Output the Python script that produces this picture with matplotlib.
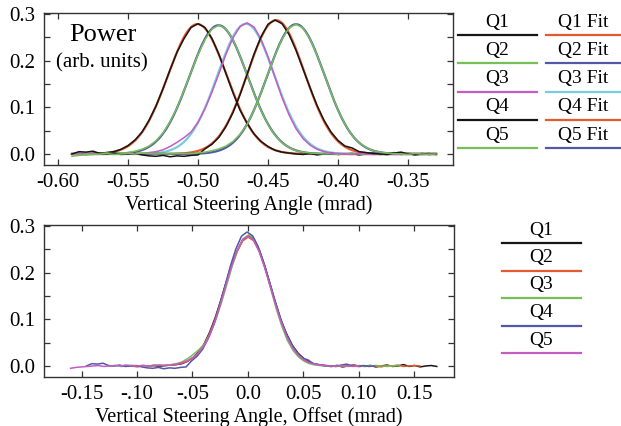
import matplotlib.pyplot as plt
import numpy as np
from matplotlib.lines import Line2D

plt.rcParams['font.family'] = ['Liberation Serif', 'DejaVu Serif']

# scan positions (mrad), the same for all five scans
angle = np.linspace(-0.590, -0.330, 53)

q1 = [0.000, 0.001, -0.001, 0.001, 0.002, 0.003, 0.005, 0.010, 0.018, 0.030,
      0.047, 0.072, 0.103, 0.140, 0.180, 0.218, 0.247, 0.271, 0.279, 0.271,
      0.247, 0.213, 0.172, 0.131, 0.094, 0.066, 0.043, 0.027, 0.016, 0.008,
      0.004, 0.002, 0.000, -0.001, 0.001, -0.002, 0.000, 0.002, -0.001, 0.000,
      0.001, -0.002, 0.000, 0.002, -0.001, 0.000, 0.003, -0.001, 0.001, -0.002,
      0.000, 0.001, -0.001]
q2 = [0.000, -0.002, 0.001, 0.000, 0.001, 0.002, 0.001, 0.002, 0.003, 0.006,
      0.010, 0.017, 0.028, 0.045, 0.069, 0.099, 0.136, 0.175, 0.213, 0.245,
      0.268, 0.276, 0.268, 0.245, 0.210, 0.170, 0.130, 0.093, 0.063, 0.040,
      0.024, 0.014, 0.007, 0.004, 0.002, 0.001, 0.000, 0.001, -0.001, 0.000,
      0.002, 0.000, -0.001, 0.001, 0.000, -0.002, 0.001, 0.000, 0.002, -0.001,
      0.000, 0.001, 0.000]
q3 = [0.000, 0.001, -0.001, 0.000, 0.001, 0.000, 0.001, 0.000, 0.002, 0.001,
      0.001, 0.003, 0.005, 0.009, 0.016, 0.025, 0.035, 0.047, 0.068, 0.097,
      0.133, 0.173, 0.214, 0.249, 0.273, 0.281, 0.272, 0.246, 0.208, 0.164,
      0.121, 0.084, 0.054, 0.033, 0.019, 0.010, 0.005, 0.002, 0.001, 0.000,
      -0.001, 0.001, 0.000, -0.001, 0.000, 0.001, -0.001, 0.000, 0.001, 0.000,
      -0.001, 0.000, 0.001]
q4 = [0.000, 0.005, 0.004, 0.006, 0.001, 0.000, 0.002, -0.001, 0.000, 0.001,
      -0.002, -0.004, -0.005, -0.003, -0.006, -0.004, -0.005, -0.003, -0.002, 0.011,
      0.021, 0.036, 0.059, 0.089, 0.127, 0.170, 0.214, 0.251, 0.278, 0.287,
      0.279, 0.256, 0.222, 0.182, 0.142, 0.104, 0.072, 0.047, 0.029, 0.017,
      0.013, 0.005, 0.003, 0.001, 0.000, -0.001, 0.002, 0.004, 0.000, -0.001,
      0.001, -0.001, 0.000]
q5 = [-0.005, -0.003, -0.002, -0.001, 0.000, 0.001, -0.001, 0.000, 0.001, 0.000,
      0.002, 0.001, 0.000, 0.001, 0.000, 0.001, 0.001, 0.001, 0.002, 0.004,
      0.007, 0.011, 0.017, 0.027, 0.042, 0.063, 0.094, 0.131, 0.172, 0.212,
      0.246, 0.270, 0.278, 0.270, 0.246, 0.212, 0.172, 0.131, 0.094, 0.063,
      0.040, 0.024, 0.014, 0.007, 0.004, 0.002, 0.001, 0.000, -0.001, 0.001,
      0.000, -0.001, 0.000]

names = ['Q1', 'Q2', 'Q3', 'Q4', 'Q5']
scans = [q1, q2, q3, q4, q5]

top_x_ticks = [-0.60, -0.55, -0.50, -0.45, -0.40, -0.35]
top_x_labels = ['-0.60', '-0.55', '-0.50', '-0.45', '-0.40', '-0.35']
bot_x_ticks = [-0.15, -0.10, -0.05, 0.0, 0.05, 0.10, 0.15]
bot_x_labels = ['-0.15', '-.10', '-.05', '0.0', '0.05', '0.10', '0.15']
y_ticks = [0.0, 0.1, 0.2, 0.3]
y_labels = ['0.0', '0.1', '0.2', '0.3']

BLACK = '#151515'
ORANGE = '#e55a2d'
GREEN = '#76bf58'
BLUE = '#5257a8'
MAGENTA = '#c55cc2'
CYAN = '#74cde2'

top_data_colors = [BLACK, GREEN, MAGENTA, BLACK, GREEN]
top_fit_colors = [ORANGE, BLUE, CYAN, ORANGE, BLUE]
bot_colors = [BLACK, ORANGE, GREEN, BLUE, MAGENTA]


def gauss_fit(x, y):
    # least squares gaussian through the peak (log-parabola)
    m = y > 0.02
    x0 = x[m].mean()
    a, b, c = np.polyfit(x[m] - x0, np.log(y[m]), 2, w=y[m])
    sigma = np.sqrt(-1 / (2 * a))
    mu = -b / (2 * a)
    amp = np.exp(c - b ** 2 / (4 * a))
    return amp, mu + x0, sigma


def style_axes(ax):
    ax.tick_params(direction='in', top=True, right=True, length=4.5,
                   width=0.9, labelsize=15, pad=6, color='#333333')
    ax.tick_params(which='minor', direction='in', top=True, right=True,
                   length=4.5, width=0.9, color='#333333')
    for s in ax.spines.values():
        s.set_color('#333333')
        s.set_linewidth(1.0)
    ax.set_yticks(y_ticks)
    ax.set_yticklabels(y_labels)
    ax.set_yticks([0.05, 0.15, 0.25], minor=True)
    ax.set_ylim(-0.0236, 0.302)


fig = plt.figure(figsize=(6.21, 4.26), dpi=100)
ax1 = fig.add_axes([44 / 621, 1 - 165 / 426, 409 / 621, 152 / 426])
ax2 = fig.add_axes([44 / 621, 1 - 377 / 426, 410 / 621, 152 / 426])

fine = np.linspace(angle[0], angle[-1], 600)
centers = []
for y, fc in zip(scans, top_fit_colors):
    amp, mu, sig = gauss_fit(angle, np.array(y))
    centers.append(mu)
    ax1.plot(fine, amp * np.exp(-(fine - mu) ** 2 / (2 * sig ** 2)),
             color=fc, lw=1.6)
for y, dc in zip(scans, top_data_colors):
    ax1.plot(angle, y, color=dc, lw=1.1)

style_axes(ax1)
ax1.set_xticks(top_x_ticks)
ax1.set_xticklabels(top_x_labels)
ax1.set_xlim(-0.610, -0.3179)
ax1.set_xlabel('Vertical Steering Angle (mrad)', fontsize=14.5, labelpad=2)
ax1.text(0.143, 0.855, 'Power', transform=ax1.transAxes, fontsize=19,
         ha='center', va='center')
ax1.text(0.141, 0.671, '(arb. units)', transform=ax1.transAxes, fontsize=15,
         ha='center', va='center')

for y, mu, bc in zip(scans, centers, bot_colors):
    ax2.plot(angle - mu, y, color=bc, lw=1.1)

style_axes(ax2)
ax2.set_xticks(bot_x_ticks)
ax2.set_xticklabels(bot_x_labels)
ax2.set_xlim(-0.184, 0.186)
ax2.set_xlabel('Vertical Steering Angle, Offset (mrad)', fontsize=14.5,
               labelpad=2)

# hand-made legends at the right
def legend_entry(label, color, x0, x1, y):
    fig.add_artist(Line2D([x0 / 621, x1 / 621], [1 - y / 426, 1 - y / 426],
                          transform=fig.transFigure, color=color, lw=1.6))
    fig.text((x0 + x1) / 2 / 621, 1 - (y - 13) / 426, label, fontsize=14,
             ha='center', va='center')


for k, name in enumerate(names):
    yy = 35 + 28.3 * k
    legend_entry(name, top_data_colors[k], 458, 537, yy)
    legend_entry(name + ' Fit', top_fit_colors[k], 546, 621, yy)
    legend_entry(name, bot_colors[k], 502, 581, 243 + 27.5 * k)

fig.savefig('out.png', dpi=100)
